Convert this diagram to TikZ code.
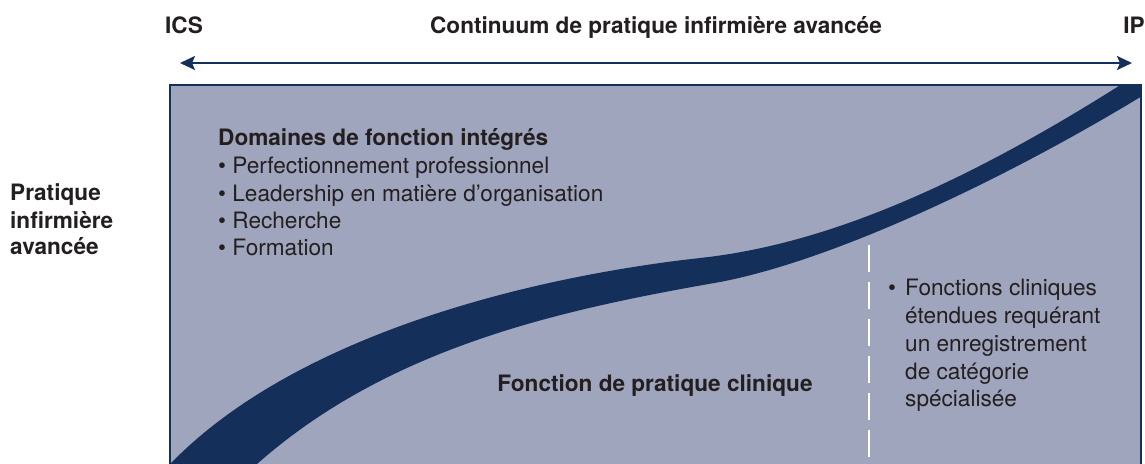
\documentclass[tikz,border=0pt]{standalone}
\usepackage{fontspec}
\setmainfont{TeX Gyre Heros}
\usetikzlibrary{arrows.meta}
\definecolor{boxfill}{HTML}{A0A5BE}
\definecolor{navy}{HTML}{14305A}
\definecolor{txt}{HTML}{231F20}
\tikzset{
  reg/.style={anchor=base west,inner sep=0pt,text=txt,font=\fontsize{22.6}{27}\selectfont},
  bld/.style={anchor=base west,inner sep=0pt,text=txt,font=\fontsize{22.6}{27}\selectfont\bfseries},
}
\begin{document}
\begin{tikzpicture}[x=1pt,y=-1pt]
\useasboundingbox (0,0) rectangle (1145,463);
% box
\fill[boxfill] (170,85) rectangle (1141,470);
\begin{scope}
\clip (170,85) rectangle (1141,470);
\fill[navy] (160,475) .. controls (280,340) and (520,278) .. (700,258)
  .. controls (820,245) and (960,190) .. (1150,66)
  -- (1160,85) .. controls (1020,172) and (840,259) .. (720,282)
  .. controls (560,310) and (380,348) .. (245,475) -- cycle;
\end{scope}
\draw[navy,line width=2pt] (170,470) -- (170,85) -- (1141,85) -- (1141,470);
% dashed line
\coordinate (dtop) at (869,245);
\coordinate (dbot) at (869,470);
\draw[white,line width=2.2pt,dash pattern=on 27pt off 10pt] (dtop) -- (dbot);
% top arrow
\coordinate (al) at (180,63);
\coordinate (ar) at (1132,63);
\draw[navy,line width=2pt,{Stealth[length=15pt,width=14pt,inset=3pt]}-{Stealth[length=15pt,width=14pt,inset=3pt]}] (al) -- (ar);
% top labels
\node[bld] (ics) at (165,33) {ICS};
\node[bld,anchor=base] (title) at (656,33) {Continuum de pratique infirmière avancée};
\node[bld,anchor=base east] (ip) at (1145,33) {IP};
% left labels
\node[bld] (pa) at (10,200) {Pratique};
\node[bld] (pb) at (10,228) {infirmière};
\node[bld] (pc) at (10,254) {avancée};
% domaines
\node[bld] (dom) at (218,145) {Domaines de fonction intégrés};
\node[reg] (b1) at (218,173) {• Perfectionnement professionnel};
\node[reg] (b2) at (218,201) {• Leadership en matière d’organisation};
\node[reg] (b3) at (218,228) {• Recherche};
\node[reg] (b4) at (218,255) {• Formation};
% clinical
\node[bld,anchor=base] (fpc) at (655,391) {Fonction de pratique clinique};
% right text
\node[reg] (rb) at (888,295) {•};
\node[reg] (r1) at (905,295) {Fonctions cliniques};
\node[reg] (r2) at (905,323) {étendues requérant};
\node[reg] (r3) at (905,351) {un enregistrement};
\node[reg] (r4) at (905,379) {de catégorie};
\node[reg] (r5) at (905,406) {spécialisée};
\end{tikzpicture}
\end{document}
